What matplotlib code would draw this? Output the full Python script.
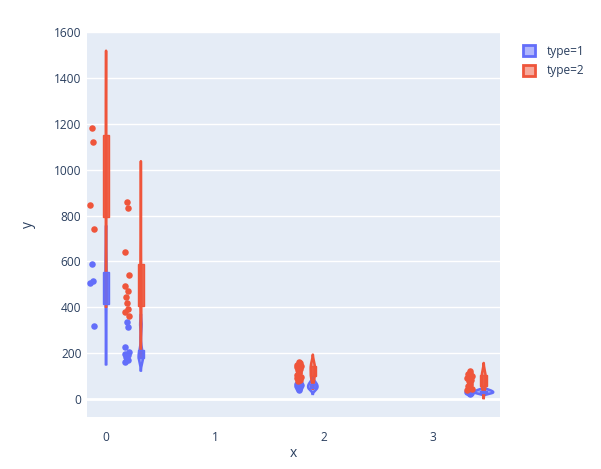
import numpy as np
import matplotlib.pyplot as plt
from matplotlib.patches import Patch, Rectangle
from matplotlib.colors import to_rgba

plt.rcParams['font.family'] = ['Open Sans', 'DejaVu Sans']

# violin positions on x and the values of each group
positions = [0.0, 0.32, 1.9, 3.47]
type1_values = [
    [590, 516, 507, 319],
    [334, 316, 227, 205, 198, 190, 183, 176, 170, 162],
    [78, 70, 65, 60, 57, 52, 48, 44, 40],
    [42, 38, 35, 33, 30, 28, 26, 24],
]
type2_values = [
    [1180, 1123, 848, 743],
    [858, 835, 640, 542, 491, 472, 446, 420, 393, 380, 360],
    [160, 157, 150, 145, 140, 133, 125, 120, 113, 105, 98, 92, 85, 80],
    [122, 115, 108, 100, 93, 85, 78, 70, 62, 55, 45, 40],
]
labels = ['type=1', 'type=2']
colors = ['#636EFA', '#EF553B']
y_ticks = [0, 200, 400, 600, 800, 1000, 1200, 1400, 1600]
x_ticks = [0, 1, 2, 3]

TXT = '#2a3f5f'
HALF_W = 0.088
BOX_W = 0.03
PT_OFF = -0.13


def quartiles(vals):
    return np.percentile(vals, [25, 75], method='midpoint')


def kde(vals):
    v = np.sort(np.asarray(vals, float))
    n = len(v)
    sd = v.std(ddof=1)
    q1, q3 = quartiles(v)
    bw = 1.059 * min(sd, (q3 - q1) / 1.349) * n ** -0.2
    ys = np.linspace(v[0] - 2 * bw, v[-1] + 2 * bw, 300)
    d = np.exp(-0.5 * ((ys[:, None] - v[None, :]) / bw) ** 2).sum(1)
    d = d / (n * bw * np.sqrt(2 * np.pi))
    return ys, d


series = [type1_values, type2_values]
dens = [[kde(g) for g in s] for s in series]
max_d = max(d.max() for s in dens for _, d in s)
scale = HALF_W / max_d

fig = plt.figure(figsize=(6.01, 4.69), dpi=100)
ax = fig.add_axes([87 / 601, 1 - 416.7 / 469, 413 / 601, 385 / 469])
ax.set_facecolor('#E5ECF6')

for s, dd, c in zip(series, dens, colors):
    for pos, vals, (ys, d) in zip(positions, s, dd):
        w = d * scale
        ax.fill_betweenx(ys, pos - w, pos + w, facecolor=to_rgba(c, 0.5),
                         edgecolor='none', zorder=3)
        xs = np.concatenate([pos - w, (pos + w)[::-1]])
        yy = np.concatenate([ys, ys[::-1]])
        ax.plot(xs, yy, color=c, lw=1.8, zorder=3)
        q1, q3 = quartiles(vals)
        ax.add_patch(Rectangle((pos - BOX_W, q1), 2 * BOX_W, q3 - q1,
                               facecolor=to_rgba(c, 0.9), edgecolor=c,
                               lw=1, zorder=4))
        n = len(vals)
        jit = 0.02 * np.sin(np.arange(n) * 2.7)
        ax.scatter(pos + PT_OFF + jit, vals, s=22, color=c, lw=0, zorder=5)

ax.set_xlim(-0.175, 3.62)
ax.set_ylim(-77, 1602)
ax.set_yticks(y_ticks)
ax.set_xticks(x_ticks)
ax.grid(axis='y', color='white', lw=1)
ax.axhline(0, color='white', lw=2, zorder=1)
ax.set_axisbelow(True)
for sp in ax.spines.values():
    sp.set_visible(False)
ax.tick_params(axis='both', length=0, labelsize=8.6, labelcolor=TXT)
ax.tick_params(axis='y', pad=4)
ax.tick_params(axis='x', pad=10)

fig.text(293 / 601, 1 - 453 / 469, 'x', ha='center', va='center', fontsize=10, color=TXT)
fig.text(28 / 601, 1 - 224 / 469, 'y', ha='center', va='center', fontsize=10,
         color=TXT, rotation=90)

handles = [Patch(facecolor=to_rgba(c, 0.5), edgecolor=c, lw=2, label=l)
           for c, l in zip(colors, labels)]
fig.legend(handles=handles, loc='upper left', bbox_to_anchor=(512 / 601, 1 - 34 / 469),
           frameon=False, fontsize=8.6, labelcolor=TXT, handlelength=1.0,
           handleheight=1.0, handletextpad=1.0, labelspacing=0.55)

fig.savefig('out.png', dpi=100)
